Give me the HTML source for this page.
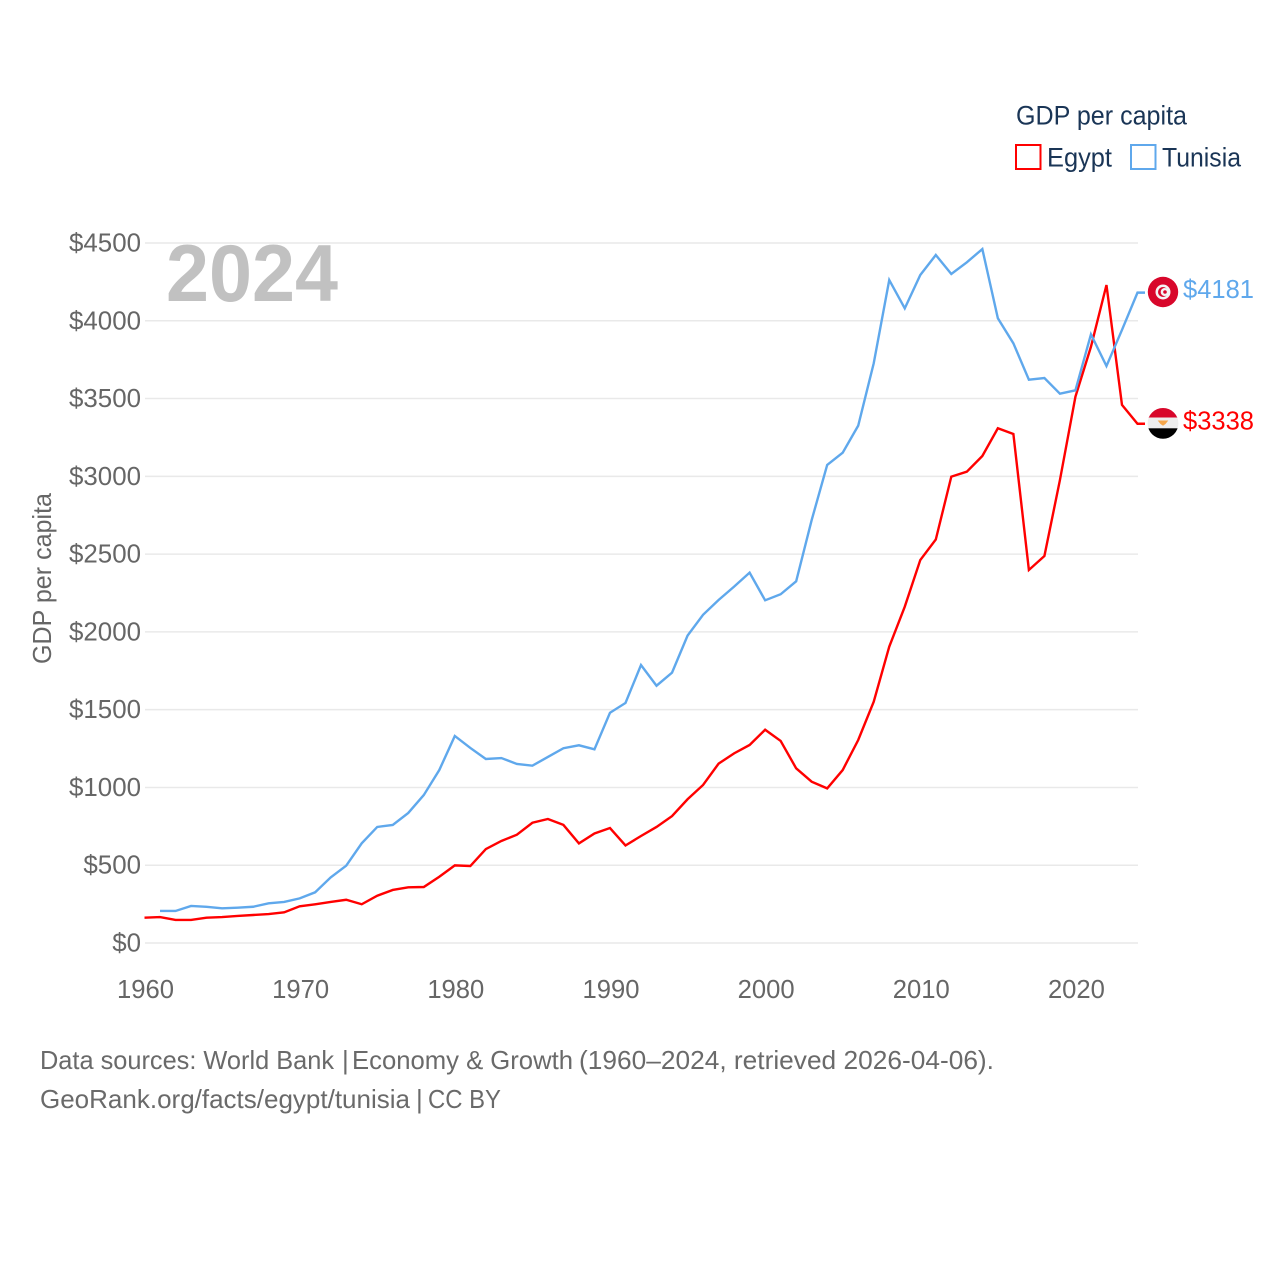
<!DOCTYPE html>
<html lang="en">
<head>
<meta charset="utf-8">
<title>GDP per capita: Egypt and Tunisia</title>
<style>
html,body{margin:0;padding:0;background:#fff;width:1280px;height:1280px;overflow:hidden}
svg{display:block}
text{font-family:"Liberation Sans",sans-serif}
.tick{font-size:26px;fill:#666}
.leg{font-size:27px;fill:#1a3556}
.foot{font-size:26px;fill:#6a6a6a}
</style>
</head>
<body>
<svg id="chart" xmlns="http://www.w3.org/2000/svg" width="1280" height="1280" viewBox="0 0 1280 1280">
  <defs>
    <clipPath id="flag-clip-tn"><circle cx="1163" cy="292" r="15.2"/></clipPath>
    <clipPath id="flag-clip-eg"><circle cx="1163" cy="423.4" r="15.4"/></clipPath>
  </defs>
  <rect width="1280" height="1280" fill="#fff"/>
  <g id="grid"></g>
  <g id="yticks"></g>
  <g id="xticks"></g>
  <text x="166" y="301" font-size="81" font-weight="700" fill="#c1c1c1" textLength="172" lengthAdjust="spacingAndGlyphs">2024</text>
  <text transform="translate(51,664) rotate(-90)" font-size="26" fill="#666" textLength="171" lengthAdjust="spacingAndGlyphs">GDP per capita</text>
  <g id="series"></g>

  <g clip-path="url(#flag-clip-tn)">
    <rect x="1147" y="276" width="32" height="32" fill="#d8072b"/>
    <circle cx="1163" cy="292" r="7.5" fill="#f4f4f4"/>
    <circle cx="1163" cy="292" r="5" fill="#d8072b"/>
    <circle cx="1164.7" cy="292" r="4" fill="#f4f4f4"/>
    <circle cx="1165" cy="292" r="1.8" fill="#d8072b"/>
  </g>
  <g clip-path="url(#flag-clip-eg)">
    <rect x="1147" y="407" width="32" height="11" fill="#d8072b"/>
    <rect x="1147" y="417.5" width="32" height="11" fill="#eeeeee"/>
    <rect x="1147" y="428.3" width="32" height="11.5" fill="#000"/>
    <polygon points="1157.7,420.5 1168.3,420.5 1165.5,424 1163,425.8 1160.5,424" fill="#f5a64a"/>
  </g>

  <g>
    <text class="leg" x="1016" y="124.5" textLength="171" lengthAdjust="spacingAndGlyphs">GDP per capita</text>
    <rect x="1016" y="145" width="24.5" height="24" fill="none" stroke="#ff0000" stroke-width="2"/>
    <text class="leg" x="1047" y="166.5" textLength="65" lengthAdjust="spacingAndGlyphs">Egypt</text>
    <rect x="1131" y="145" width="24.5" height="24" fill="none" stroke="#5fa8ec" stroke-width="2"/>
    <text class="leg" x="1162" y="166.5" textLength="79" lengthAdjust="spacingAndGlyphs">Tunisia</text>
  </g>

  <text class="foot" y="1069"><tspan x="40" textLength="294" lengthAdjust="spacingAndGlyphs">Data sources: World Bank</tspan> <tspan x="342">|</tspan> <tspan x="352" textLength="221" lengthAdjust="spacingAndGlyphs">Economy &amp; Growth</tspan> <tspan x="579" textLength="415" lengthAdjust="spacingAndGlyphs">(1960–2024, retrieved 2026-04-06).</tspan></text>
  <text class="foot" y="1108"><tspan x="40" textLength="370" lengthAdjust="spacingAndGlyphs">GeoRank.org/facts/egypt/tunisia</tspan> <tspan x="416">|</tspan> <tspan x="428" textLength="73" lengthAdjust="spacingAndGlyphs">CC BY</tspan></text>
</svg>
<script>
const egyptYears = [1960,1961,1962,1963,1964,1965,1966,1967,1968,1969,1970,1971,1972,1973,1974,1975,1976,1977,1978,1979,1980,1981,1982,1983,1984,1985,1986,1987,1988,1989,1990,1991,1992,1993,1994,1995,1996,1997,1998,1999,2000,2001,2002,2003,2004,2005,2006,2007,2008,2009,2010,2011,2012,2013,2014,2015,2016,2017,2018,2019,2020,2021,2022,2023,2024];
const egyptValues = [163,167,148,148,163,167,174,180,186,197,236,249,264,278,249,304,341,358,360,426,499,495,604,656,696,773,797,759,640,704,739,627,688,746,816,924,1016,1153,1219,1273,1371,1299,1123,1037,994,1112,1305,1551,1905,2162,2462,2594,2998,3030,3131,3309,3272,2398,2488,2976,3512,3833,4230,3459,3338];
const tunisiaYears = [1961,1962,1963,1964,1965,1966,1967,1968,1969,1970,1971,1972,1973,1974,1975,1976,1977,1978,1979,1980,1981,1982,1983,1984,1985,1986,1987,1988,1989,1990,1991,1992,1993,1994,1995,1996,1997,1998,1999,2000,2001,2002,2003,2004,2005,2006,2007,2008,2009,2010,2011,2012,2013,2014,2015,2016,2017,2018,2019,2020,2021,2022,2023,2024];
const tunisiaValues = [206,206,238,233,223,227,233,255,264,287,326,422,497,641,746,759,836,951,1112,1331,1254,1183,1189,1151,1140,1196,1252,1271,1245,1480,1543,1787,1654,1738,1976,2110,2205,2291,2381,2203,2242,2325,2719,3073,3152,3326,3727,4262,4080,4294,4423,4301,4376,4461,4016,3855,3621,3632,3531,3553,3913,3709,3941,4181];
const yTickValues = [0,500,1000,1500,2000,2500,3000,3500,4000,4500];
const xTickYears = [1960,1970,1980,1990,2000,2010,2020];

const NS = 'http://www.w3.org/2000/svg';
const plotLeft = 145, plotRight = 1138, plotTop = 243, plotBottom = 943;
function xScale(year){ return plotLeft + (year - 1960) * (plotRight - plotLeft) / 64; }
function yScale(value){ return plotBottom - value * (plotBottom - plotTop) / 4500; }
function svgEl(tag, attrs, parent){
  const el = document.createElementNS(NS, tag);
  for (const k in attrs) el.setAttribute(k, attrs[k]);
  parent.appendChild(el);
  return el;
}

const grid = document.getElementById('grid');
const yticks = document.getElementById('yticks');
const xticks = document.getElementById('xticks');
const seriesGroup = document.getElementById('series');

yTickValues.forEach(function(v){
  const line = svgEl('line', {x1: plotLeft, x2: plotRight, y1: yScale(v), y2: yScale(v), stroke: '#e9e9e9', 'stroke-width': 1.5}, grid);
  
  
  const label = '$' + v;
  const t = svgEl('text', {x: 141, y: yScale(v) + 8.5, 'text-anchor': 'end', class: 'tick', textLength: label.length * 14.4 , lengthAdjust: 'spacingAndGlyphs'}, yticks);
  t.textContent = label;
  
  
});

xTickYears.forEach(function(y){
  const t = svgEl('text', {x: xScale(y) + 0.5, y: 998, 'text-anchor': 'middle', class: 'tick', textLength: 57, lengthAdjust: 'spacingAndGlyphs'}, xticks);
  t.textContent = String(y);
  
  
});

function drawSeries(name, years, values, color){
  const pts = years.map(function(y, i){ return (xScale(y) - 0.5).toFixed(2) + ',' + yScale(values[i]).toFixed(2); });
  const last = values[values.length - 1];
  const lastY = yScale(last);
  pts.push((xScale(years[years.length - 1]) + 7) + ',' + lastY.toFixed(2));
  const line = svgEl('polyline', {points: pts.join(' '), fill: 'none', stroke: color, 'stroke-width': 2.4, 'stroke-linejoin': 'miter'}, seriesGroup);
  
  
  const label = svgEl('text', {x: 1183, y: lastY + 5.5, 'font-size': 26, fill: color, textLength: 71, lengthAdjust: 'spacingAndGlyphs'}, seriesGroup);
  label.textContent = '$' + last;
  
  
}
drawSeries('egypt', egyptYears, egyptValues, '#ff0000');
drawSeries('tunisia', tunisiaYears, tunisiaValues, '#5fa8ec');
</script>
</body>
</html>
